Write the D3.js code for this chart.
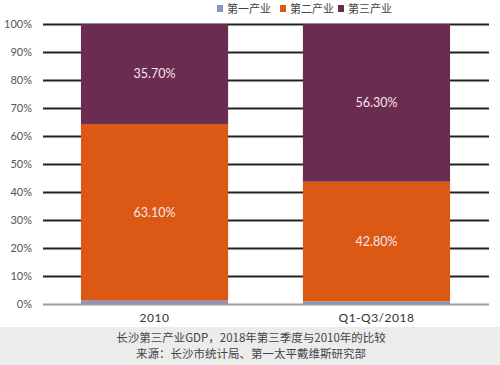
<!DOCTYPE html>
<html>
<head>
<meta charset="utf-8">
<script src="https://cdn.jsdelivr.net/npm/d3@7"></script>
<style>
  body { margin: 0; background: #fff; }
  svg { display: block; }
</style>
</head>
<body>
<div id="chart"></div>
<script>
// data
const categories = ["2010", "Q1-Q3/2018"];
const seriesNames = ["第一产业", "第二产业", "第三产业"];
const primary = [1.2, 0.9];
const secondary = [63.1, 42.8];
const tertiary = [35.7, 56.3];
const yTicks = [0, 10, 20, 30, 40, 50, 60, 70, 80, 90, 100];
const footerLines = ["长沙第三产业GDP，2018年第三季度与2010年的比较", "来源：长沙市统计局、第一太平戴维斯研究部"];

const width = 500, height = 365;
const margins = { top: 24, right: 12, bottom: 62, left: 43 };
const font = "Lato, 'Noto Sans CJK SC', sans-serif";

const colors = ["#8797c2", "#db5915", "#6a2c51"];

const rows = categories.map((c, i) => ({
    category: c,
    [seriesNames[0]]: primary[i],
    [seriesNames[1]]: secondary[i],
    [seriesNames[2]]: tertiary[i]
}));
const series = d3.stack().keys(seriesNames)(rows);

const svg = d3.select("#chart").append("svg")
    .attr("width", width)
    .attr("height", height);

const x = d3.scaleBand()
    .domain(categories)
    .range([margins.left, width - margins.right])
    .paddingInner(0.337)
    .paddingOuter(0.171);

const y = d3.scaleLinear()
    .domain([0, 100])
    .range([height - margins.bottom + 1, margins.top]);

const color = d3.scaleOrdinal().domain(seriesNames).range(colors);

// gridlines + tick labels
const yAxis = svg.append("g")
    .attr("transform", `translate(${margins.left},0)`)
    .call(d3.axisLeft(y).tickValues(yTicks).tickFormat(d => d + "%")
        .tickSize(-(width - margins.right - margins.left + 1)).tickPadding(11))
    .call(g => g.select(".domain").remove());
yAxis.selectAll(".tick line")
    .attr("stroke", d => d === 0 ? "#9a9a9a" : "#222")
    .attr("stroke-width", 2);
yAxis.selectAll(".tick text")
    .attr("fill", "#555")
    .attr("font-size", 11)
    .attr("font-family", font);

// bars
svg.append("g")
    .selectAll("g")
    .data(series)
    .join("g")
    .attr("fill", d => color(d.key))
    .selectAll("rect")
    .data(d => d.map((p, i) => ({ key: d.key, category: categories[i], y0: p[0], y1: p[1] })))
    .join("rect")
    .attr("x", d => x(d.category))
    .attr("y", d => y(d.y1))
    .attr("width", x.bandwidth())
    .attr("height", d => y(d.y0) - y(d.y1));

// value labels for secondary + tertiary
const labelData = series.slice(1).flatMap(s => s.map((p, i) => ({
    category: categories[i], y0: p[0], y1: p[1], v: p[1] - p[0]
})));
svg.append("g")
    .selectAll("text")
    .data(labelData)
    .join("text")
    .attr("x", d => x(d.category) + x.bandwidth() / 2)
    .attr("y", d => y((d.y0 + d.y1) / 2))
    .attr("dy", "0.35em")
    .attr("text-anchor", "middle")
    .attr("fill", "#f6e6ea")
    .attr("font-size", 12.5)
    .attr("font-family", font)
    .text(d => d.v.toFixed(2) + "%");

// category labels
svg.append("g")
    .selectAll("text")
    .data(categories)
    .join("text")
    .attr("x", d => x(d) + x.bandwidth() / 2)
    .attr("y", 322)
    .attr("text-anchor", "middle")
    .attr("fill", "#333")
    .attr("font-size", 12)
    .attr("font-family", font)
    .attr("letter-spacing", 0.5)
    .text(d => d);

// legend
const legendX = [217, 280, 338];
const legend = svg.append("g")
    .selectAll("g")
    .data(seriesNames)
    .join("g")
    .attr("transform", (d, i) => `translate(${legendX[i]},4)`);
legend.append("rect")
    .attr("width", 6)
    .attr("height", 7)
    .attr("y", 1)
    .attr("fill", d => color(d));
legend.append("text")
    .attr("x", 10)
    .attr("y", 9)
    .attr("font-size", 11)
    .attr("fill", "#444")
    .attr("font-family", "'Noto Sans CJK SC', sans-serif")
    .text(d => d);

// footer
svg.append("rect")
    .attr("x", 0)
    .attr("y", 327)
    .attr("width", width)
    .attr("height", height - 327)
    .attr("fill", "#ececec");
svg.append("g")
    .selectAll("text")
    .data(footerLines)
    .join("text")
    .attr("x", 251)
    .attr("y", (d, i) => 342 + i * 16)
    .attr("text-anchor", "middle")
    .attr("font-size", 11.5)
    .attr("fill", "#444")
    .attr("font-family", "'Noto Sans CJK SC', sans-serif")
    .text(d => d);
</script>
</body>
</html>
